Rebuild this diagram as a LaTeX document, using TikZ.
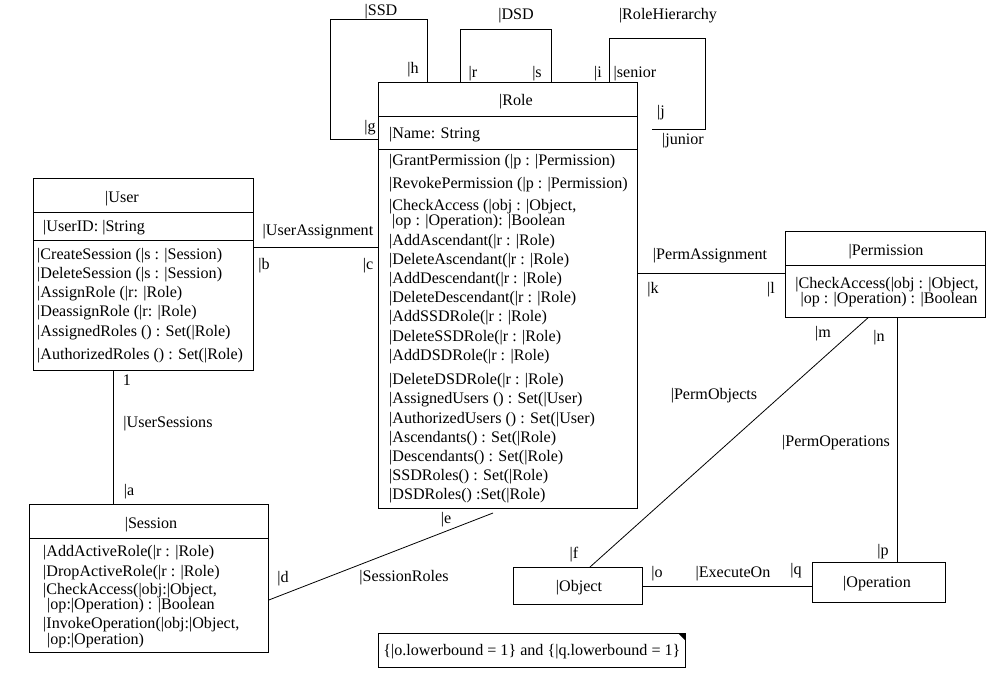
\documentclass[tikz,border=0pt]{standalone}
\usepackage{fontspec}
\setmainfont{Liberation Serif}

\tikzset{
  lbl/.style={inner sep=0pt, yshift=-1.5pt, font=\fontsize{16.1}{18}\selectfont},
  txt/.style={lbl, anchor=west},
  classbox/.style={draw, line width=0.8pt, anchor=north west, inner sep=0pt},
  conn/.style={line width=0.8pt}
}

\begin{document}
\begin{tikzpicture}[x=1pt,y=-1pt]
  \useasboundingbox (0,0) rectangle (996,677);

  % Draw the class boxes
  \node[classbox, minimum width=259, minimum height=426] (role) at (378,82) {};
  \node[classbox, minimum width=220, minimum height=192] (user) at (33,178) {};
  \node[classbox, minimum width=239, minimum height=148] (session) at (29,504) {};
  \node[classbox, minimum width=200, minimum height=86] (perm) at (785,231) {};
  \node[classbox, minimum width=129, minimum height=37] (object) at (513,567) {};
  \node[classbox, minimum width=133, minimum height=40] (operation) at (812,562) {};
  \node[classbox, minimum width=307, minimum height=34] (note) at (378,633) {};
  \fill (note.north east) -- ++(-8,0) -- ++(8,8) -- cycle;

  % Separators between the compartments
  \foreach \y in {116,149} {
    \draw[conn] (role.west |- 0,\y) -- (role.east |- 0,\y);
  }
  \foreach \y in {212,240} {
    \draw[conn] (user.west |- 0,\y) -- (user.east |- 0,\y);
  }
  \draw[conn] (session.west |- 0,538) -- (session.east |- 0,538);
  \draw[conn] (perm.west |- 0,265) -- (perm.east |- 0,265);

  % Class names
  \node[lbl] (rolename) at (516,100) {|Role};
  \node[lbl] (username) at (122,197) {|User};
  \node[lbl] (sessionname) at (151,523) {|Session};
  \node[lbl] (permname) at (886,250) {|Permission};
  \node[lbl] (objectname) at (579,586) {|Object};
  \node[lbl] (operationname) at (877,582) {|Operation};

  % Attributes
  \node[txt] (roleattr) at (389,133) {|Name: String};
  \node[txt] (userattr) at (43,226) {|UserID: |String};

  % Operations of Role
  \foreach \x/\y/\t [count=\i] in {
      389/160/{|GrantPermission (|p : |Permission)},
      389/183/{|RevokePermission (|p : |Permission)},
      389/205/{|CheckAccess (|obj : |Object,},
      392/220/{|op : |Operation): |Boolean},
      389/240/{|AddAscendant(|r : |Role)},
      389/259/{|DeleteAscendant(|r : |Role)},
      389/278/{|AddDescendant(|r : |Role)},
      389/297/{|DeleteDescendant(|r : |Role)},
      389/316/{|AddSSDRole(|r : |Role)},
      389/336/{|DeleteSSDRole(|r : |Role)},
      389/355/{|AddDSDRole(|r : |Role)},
      389/379/{|DeleteDSDRole(|r : |Role)},
      389/398/{|AssignedUsers () : Set(|User)},
      389/418/{|AuthorizedUsers () : Set(|User)},
      389/437/{|Ascendants() : Set(|Role)},
      389/456/{|Descendants() : Set(|Role)},
      389/475/{|SSDRoles() : Set(|Role)},
      389/494/{|DSDRoles() :Set(|Role)}} {
    \node[txt] (roleop\i) at (\x,\y) {\t};
  }

  % Operations of User
  \foreach \y/\t [count=\i] in {
      254/{|CreateSession (|s : |Session)},
      273/{|DeleteSession (|s : |Session)},
      292/{|AssignRole (|r: |Role)},
      311/{|DeassignRole (|r: |Role)},
      331/{|AssignedRoles () : Set(|Role)},
      354/{|AuthorizedRoles () : Set(|Role)}} {
    \node[txt] (userop\i) at (37,\y) {\t};
  }

  % Operations of Session
  \foreach \x/\y/\t [count=\i] in {
      43/551/{|AddActiveRole(|r : |Role)},
      43/571/{|DropActiveRole(|r : |Role)},
      43/589/{|CheckAccess(|obj:|Object,},
      47/604/{|op:|Operation) : |Boolean},
      43/623/{|InvokeOperation(|obj:|Object,},
      47/639/{|op:|Operation)}} {
    \node[txt] (sessionop\i) at (\x,\y) {\t};
  }

  % Operation of Permission
  \node[lbl] (permop1) at (887,283) {|CheckAccess(|obj : |Object,};
  \node[lbl] (permop2) at (889,298) {|op : |Operation) : |Boolean};

  % Constraint note
  \node[lbl] (notetext) at (note.center) {\{|o.lowerbound = 1\} and \{|q.lowerbound = 1\}};

  % Self associations on Role
  \draw[conn] (role.west |- 0,139) -| (330,19) -| (role.north -| 427,0);
  \draw[conn] (role.north -| 460,0) |- (551,29) -- (role.north -| 551,0);
  \coordinate (juniorend) at (652,129);
  \draw[conn] (role.north -| 609,0) |- (705,38) |- (juniorend);

  % Associations between classes
  \coordinate (roleend) at (493,513);
  \draw[conn] (user.east |- 0,247) -- (role.west |- 0,247);
  \draw[conn] (user.south -| 113,0) -- (session.north -| 113,0);
  \draw[conn] (session.east |- 0,600) -- (roleend);
  \draw[conn] (role.east |- 0,273) -- (perm.west |- 0,273);
  \draw[conn] (perm.south -| 868,0) -- (object.north -| 590,0);
  \draw[conn] (perm.south -| 897,0) -- (operation.north -| 897,0);
  \draw[conn] (object.east |- 0,586) -- (operation.west |- 0,586);

  % Association names and role ends
  \foreach \x/\y/\t [count=\i] in {
      381/10/{|SSD}, 413/68/{|h}, 370/126/{|g},
      516/14/{|DSD}, 473/72/{|r}, 537/72/{|s},
      668/14/{|RoleHierarchy}, 598/72/{|i}, 635/72/{|senior},
      661/111/{|j}, 683/139/{|junior},
      318/230/{|UserAssignment}, 264/264/{|b}, 368/264/{|c},
      127/379/{1}, 168/422/{|UserSessions}, 129/490/{|a},
      283/577/{|d}, 404/576/{|SessionRoles}, 446/518/{|e},
      710/254/{|PermAssignment}, 653/288/{|k}, 771/288/{|l},
      823/332/{|m}, 879/336/{|n},
      714/394/{|PermObjects}, 574/553/{|f},
      836/441/{|PermOperations}, 883/550/{|p},
      657/572/{|o}, 733/572/{|ExecuteOn}, 796/569/{|q}} {
    \node[lbl] (lbl\i) at (\x,\y) {\t};
  }

\end{tikzpicture}
\end{document}
